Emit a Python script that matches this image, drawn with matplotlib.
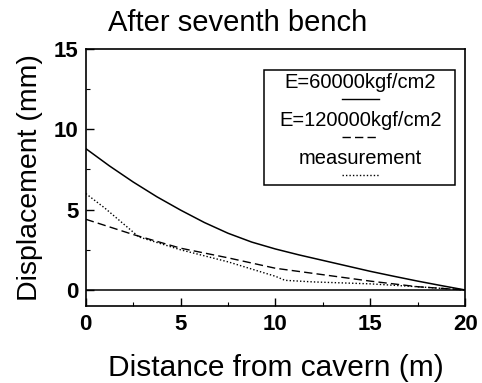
import matplotlib
matplotlib.use("Agg")
import matplotlib.pyplot as plt
from matplotlib.patches import Rectangle
from matplotlib.ticker import MultipleLocator

plt.rcParams["font.family"] = ["Liberation Sans", "DejaVu Sans"]

# distance from cavern (m) and displacement (mm)
dist_e60000 = [0, 1.25, 2.5, 3.75, 5, 6.25, 7.5, 8.75, 10, 11.25, 12.5, 13.75, 15, 16.25, 17.5, 18.75, 20]
disp_e60000 = [8.8, 7.72, 6.72, 5.8, 4.97, 4.2, 3.53, 2.98, 2.55, 2.18, 1.84, 1.5, 1.16, 0.85, 0.55, 0.27, 0.0]
dist_e120000 = [0, 2.5, 5, 7.5, 10, 12.5, 15, 17.5, 20]
disp_e120000 = [4.4, 3.45, 2.6, 2.0, 1.35, 0.95, 0.55, 0.2, 0.0]
dist_meas = [0, 1, 2.8, 5, 7.5, 10, 10.5, 12, 15, 17.5, 20]
disp_meas = [6.0, 5.1, 3.3, 2.5, 1.75, 0.85, 0.6, 0.5, 0.38, 0.2, 0.0]

labels = ["E=60000kgf/cm2", "E=120000kgf/cm2", "measurement"]
styles = ["-", (0, (6, 3)), (0, (1, 1.5))]

fig = plt.figure(figsize=(4.82, 3.83), dpi=100)
ax = fig.add_axes([0.178, 0.201, 0.787, 0.671])

ax.plot(dist_e60000, disp_e60000, color="black", ls=styles[0], lw=1.1)
ax.plot(dist_e120000, disp_e120000, color="black", ls=styles[1], lw=1.0)
ax.plot(dist_meas, disp_meas, color="black", ls=styles[2], lw=1.0)
ax.axhline(0, color="black", lw=1.1)

ax.set_xlim(0, 20)
ax.set_ylim(-1, 15)
ax.xaxis.set_major_locator(MultipleLocator(5))
ax.xaxis.set_minor_locator(MultipleLocator(2.5))
ax.yaxis.set_major_locator(MultipleLocator(5))
ax.yaxis.set_minor_locator(MultipleLocator(2.5))
ax.tick_params(which="both", direction="in", top=False, right=False)
ax.tick_params(which="major", length=6, width=1.0, labelsize=16)
ax.tick_params(axis="x", which="major", pad=6)
ax.tick_params(axis="y", which="major", pad=5)
ax.tick_params(which="minor", length=3, width=0.8)
for t in ax.get_xticklabels() + ax.get_yticklabels():
    t.set_fontweight("bold")
for s in ax.spines.values():
    s.set_linewidth(1.2)

ax.set_xlabel("Distance from cavern (m)", fontsize=21.5)
ax.set_ylabel("Displacement (mm)", fontsize=20.5)
ax.xaxis.set_label_coords(0.5, -0.185)
ax.yaxis.set_label_coords(-0.113, 0.5)
fig.text(0.494, 0.94, "After seventh bench", fontsize=21, ha="center", va="center")

# legend: label with its line sample underneath, in a framed box
ax.add_patch(Rectangle((0.469, 0.471), 0.504, 0.447, transform=ax.transAxes,
                       fill=False, lw=1.1, ec="black", zorder=5))
text_y = [0.868, 0.722, 0.574]
for lab, st, ty in zip(labels, styles, text_y):
    ax.text(0.724, ty, lab, transform=ax.transAxes, ha="center", va="center",
            fontsize=14.5, zorder=6)
    ax.plot([0.676, 0.774], [ty - 0.064, ty - 0.064], transform=ax.transAxes,
            color="black", ls=st, lw=1.0, zorder=6)

fig.savefig("out.png", dpi=100)
